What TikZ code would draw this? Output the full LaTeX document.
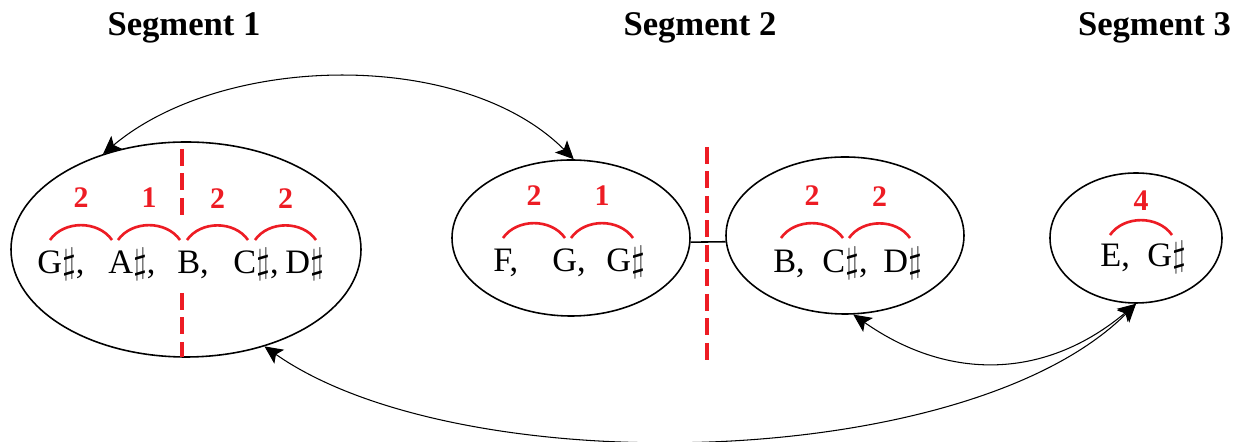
\documentclass[tikz,border=0pt]{standalone}
\usepackage{fontspec}
\setmainfont{Liberation Serif}
\usetikzlibrary{shapes.geometric,arrows.meta}
\definecolor{intred}{RGB}{237,28,36}
\begin{document}
\begin{tikzpicture}[
    pcset/.style={ellipse, draw=black, line width=0.9pt, inner sep=0pt},
    note/.style={anchor=base west, inner sep=0pt,
      font=\fontsize{19.5}{23}\selectfont},
    interval/.style={draw=intred, line width=1.5pt, bend left=55},
    num/.style={above=0.32cm, inner sep=0pt, text=intred,
      font=\bfseries\fontsize{17}{20}\selectfont},
    cut/.style={draw=intred, line width=2.6pt,
      dash pattern=on 0.34cm off 0.15cm},
    link/.style={{Stealth[length=3.6mm,width=3.4mm,inset=0.8mm]}-{Stealth[length=3.6mm,width=3.4mm,inset=0.8mm]},
      line width=0.6pt},
    title/.style={anchor=base, font=\bfseries\fontsize{19.7}{24}\selectfont}
  ]
    \useasboundingbox (0,0) rectangle (24.84,8.84);

    % Titles
    \node[title] (t1) at (3.68,8.12) {Segment 1};
    \node[title] (t2) at (14.0,8.12) {Segment 2};
    \node[title] (t3) at (23.09,8.12) {Segment 3};

    % Sets
    \node[pcset, minimum width=7cm, minimum height=4.3cm] (seg1) at (3.72,3.85) {};
    \node[pcset, minimum width=4.76cm, minimum height=3.12cm] (seg2a) at (11.42,4.08) {};
    \node[pcset, minimum width=4.76cm, minimum height=3.14cm] (seg2b) at (16.9,4.13) {};
    \node[pcset, minimum width=3.44cm, minimum height=2.6cm] (seg3) at (22.72,4.08) {};
    \draw[line width=0.9pt] (seg2a.-2.4) -- (seg2b.183.6);

    % Cuts
    \draw[cut] (3.64,5.86) -- (3.64,4.52);
    \draw[cut] (3.64,2.98) -- (3.64,1.7);
    \draw[cut] (14.14,5.9) -- (14.14,1.62);

    % Notes
    \node[note] (n1) at (0.74,3.36) {G$\sharp$,};
    \node[note] (n2) at (2.16,3.36) {A$\sharp$,};
    \node[note] (n3) at (3.54,3.36) {B,};
    \node[note] (n4) at (4.66,3.36) {C$\sharp$,};
    \node[note] (n5) at (5.7,3.36) {D$\sharp$};
    \node[note] (m1) at (9.86,3.40) {F,};
    \node[note] (m2) at (11.04,3.40) {G,};
    \node[note] (m3) at (12.12,3.40) {G$\sharp$};
    \node[note] (k1) at (15.46,3.38) {B,};
    \node[note] (k2) at (16.44,3.38) {C$\sharp$,};
    \node[note] (k3) at (17.66,3.38) {D$\sharp$};
    \node[note] (e1) at (22.0,3.5) {E,};
    \node[note] (e2) at (22.94,3.5) {G$\sharp$};

    % Intervals
    \draw[interval] (1.0,4.04) to node[num] (i1) {2} (2.24,4.04);
    \draw[interval] (2.36,4.04) to node[num] (i2) {1} (3.6,4.04);
    \draw[interval] (3.74,4.04) to node[num] (i3) {2} (4.96,4.04);
    \draw[interval] (5.1,4.04) to node[num] (i4) {2} (6.32,4.04);
    \draw[interval] (10.06,4.08) to node[num] (j1) {2} (11.3,4.08);
    \draw[interval] (11.42,4.08) to node[num] (j2) {1} (12.66,4.08);
    \draw[interval] (15.62,4.08) to node[num] (h1) {2} (16.86,4.08);
    \draw[interval] (16.98,4.08) to node[num] (h2) {2} (18.2,4.08);
    \draw[interval] (22.2,4.14) to node[num, yshift=-0.16cm] (g1) {4} (23.44,4.14);

    % Links
    \draw[link] (seg1.131) to[out=40, in=135, looseness=0.85] (seg2a.88);
    \draw[link] (seg3.south) to[out=220, in=-35, looseness=1.06] (seg2b.-84);
    \draw[link] (seg3.south) to[out=225, in=-35, looseness=0.7] (seg1.-51);
  \end{tikzpicture}
\end{document}
